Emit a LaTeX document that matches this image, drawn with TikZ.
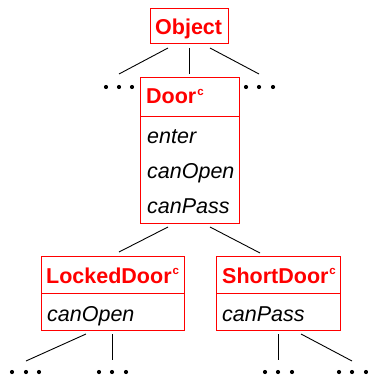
\documentclass[tikz,border=0pt]{standalone}
\usepackage{fontspec}
\setmainfont{Liberation Sans}
\definecolor{umlred}{RGB}{255,0,0}

% small raised "c" marking a class
\newcommand{\clsmark}{\kern1pt\raisebox{8.5pt}{\fontsize{11.5}{11.5}\selectfont\bfseries c}}

\begin{document}
\begin{tikzpicture}[x=1pt,y=-1pt,
  frame/.style={draw=umlred, line width=1pt, inner sep=0pt, outer sep=0pt, rectangle},
  divider/.style={draw=umlred, line width=1pt},
  title/.style={anchor=base west, inner sep=0pt, text=umlred,
                font=\fontsize{21.5}{21.5}\selectfont\bfseries},
  member/.style={anchor=base west, inner sep=0pt,
                 font=\fontsize{21.5}{21.5}\selectfont\itshape},
  link/.style={line width=0.9pt},
  dot/.style={circle, fill=black, inner sep=0pt, minimum size=4.2pt}]
\useasboundingbox (0,0) rectangle (367,377);

% class frames
\node[frame, minimum width=78pt, minimum height=35pt]  (objbox)    at (189,26.5)  {};
\node[frame, minimum width=99pt, minimum height=145pt] (doorbox)   at (189.5,150.5) {};
\node[frame, minimum width=143pt, minimum height=74pt] (lockedbox) at (112.5,293) {};
\node[frame, minimum width=124pt, minimum height=74pt] (shortbox)  at (278,293) {};

% compartment dividers
\draw[divider] (doorbox.west |- 0,117) -- (doorbox.east |- 0,117);
\draw[divider] (lockedbox.west) -- (lockedbox.east);
\draw[divider] (shortbox.west) -- (shortbox.east);

% class names and members
\node[title]  (objname)    at (155,35)  {Object};
\node[title]  (doorname)   at (146,104) {Door\clsmark};
\node[member] (enter)      at (147,143) {enter};
\node[member] (dooropen)   at (147,178) {canOpen};
\node[member] (doorpass)   at (147,213) {canPass};
\node[title]  (lockedname) at (46,283)  {LockedDoor\clsmark};
\node[member] (lockedopen) at (47,321)  {canOpen};
\node[title]  (shortname)  at (222,283) {ShortDoor\clsmark};
\node[member] (shortpass)  at (222,321) {canPass};

% ellipsis dots
\foreach \n/\x/\y in {a1/106/87, a2/119/87, a3/132/87,
                      b1/246/87, b2/259/87, b3/273/87,
                      c1/12/372, c2/26/372, c3/39/372,
                      d1/99/372, d2/112/372, d3/126/372,
                      e1/265/372, e2/278/372, e3/292/372,
                      f1/339/372, f2/352/372, f3/366/372}
  \node[dot] (\n) at (\x,\y) {};

% connector end points
\coordinate (objL)  at (168,48);   \coordinate (objM)  at (189,48);   \coordinate (objR)  at (210,48);
\coordinate (aEnd)  at (119,74);   \coordinate (doorTop) at (189,74); \coordinate (bEnd)  at (259,74);
\coordinate (doorL) at (168,227);  \coordinate (doorR) at (210,227);
\coordinate (lockTop) at (119,252); \coordinate (shortTop) at (260,253);
\coordinate (lockL) at (86,334);   \coordinate (lockM) at (112,334);
\coordinate (cEnd)  at (26,361);   \coordinate (dEnd)  at (112,360);
\coordinate (shortM) at (278,334); \coordinate (shortR) at (301,334);
\coordinate (eEnd)  at (278,360);  \coordinate (fEnd)  at (352,361);

% inheritance links
\draw[link] (objL) -- (aEnd);
\draw[link] (objM) -- (doorTop);
\draw[link] (objR) -- (bEnd);
\draw[link] (doorL) -- (lockTop);
\draw[link] (doorR) -- (shortTop);
\draw[link] (lockL) -- (cEnd);
\draw[link] (lockM) -- (dEnd);
\draw[link] (shortM) -- (eEnd);
\draw[link] (shortR) -- (fEnd);
\end{tikzpicture}
\end{document}
